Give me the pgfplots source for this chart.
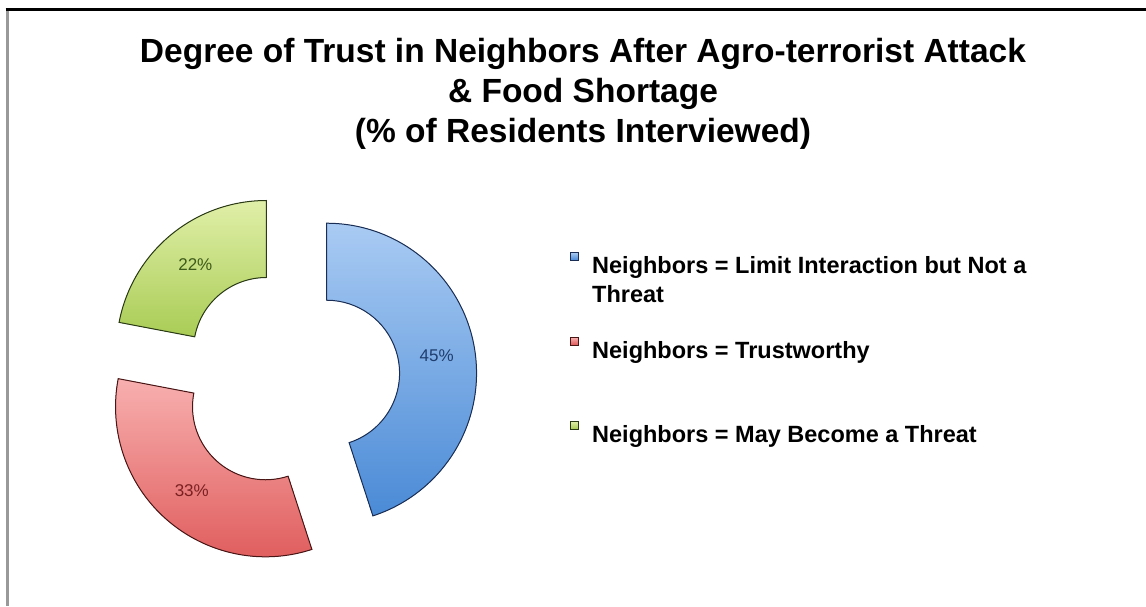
\documentclass[border=0pt]{standalone}
\usepackage{pgfplots}
\pgfplotsset{compat=1.18}
\usepackage{pgfplotstable}
\usepackage{fontspec}
\setmainfont{Liberation Sans}
\usetikzlibrary{calc}

\definecolor{blueTop}{HTML}{A9CBF3}
\definecolor{blueBot}{HTML}{4A8AD6}
\definecolor{redTop}{HTML}{F8AFAF}
\definecolor{redBot}{HTML}{DE5656}
\definecolor{greenTop}{HTML}{E0EFA8}
\definecolor{greenBot}{HTML}{A9CC55}
\definecolor{blueEdge}{HTML}{1A2E55}
\definecolor{redEdge}{HTML}{4A1515}
\definecolor{greenEdge}{HTML}{2A3A15}
\definecolor{blueLab}{HTML}{1F3D6E}
\definecolor{redLab}{HTML}{7A2020}
\definecolor{greenLab}{HTML}{3D5A1A}

\pgfplotstableread{
label value
Limit 45
Trust 33
Threat 22
}\data

\pgfplotstablegetelem{0}{value}\of\data \let\vA\pgfplotsretval
\pgfplotstablegetelem{1}{value}\of\data \let\vB\pgfplotsretval
\pgfplotstablegetelem{2}{value}\of\data \let\vC\pgfplotsretval

\pgfmathsetmacro\aA{90}
\pgfmathsetmacro\aB{\aA-3.6*\vA}
\pgfmathsetmacro\aC{\aB-3.6*\vB}
\pgfmathsetmacro\aD{\aC-3.6*\vC}
\pgfmathsetmacro\mA{(\aA+\aB)/2}
\pgfmathsetmacro\mB{(\aB+\aC)/2}
\pgfmathsetmacro\mC{(\aC+\aD)/2}

\def\Rout{150pt}
\def\Rin{73pt}
\def\Rmid{111.5pt}
\def\expl{37pt}

% segment: start angle, end angle, mid angle, top colour, bottom colour, edge colour
\newcommand\segment[6]{%
  \filldraw[top color=#4, bottom color=#5, draw=#6, line width=1pt]
    ($(axis cs:290,379)+(#3:\expl)+(#1:\Rout)$)
    arc[start angle=#1, end angle=#2, radius=\Rout]
    -- ($(axis cs:290,379)+(#3:\expl)+(#2:\Rin)$)
    arc[start angle=#2, end angle=#1, radius=\Rin]
    -- cycle;
}

\begin{document}
\begin{tikzpicture}
\begin{axis}[
  width=1146pt, height=606pt, scale only axis,
  xmin=0, xmax=1146, ymin=0, ymax=606, y dir=reverse,
  hide axis, clip=false,
]
\coordinate (bbA) at (axis cs:0,0);
\coordinate (bbB) at (axis cs:1146,606);
% frame
\draw[color=black!40, line width=3.5pt] (axis cs:7.3,9) -- (axis cs:7.3,606);
\draw[color=black, line width=2.5pt] (axis cs:5.5,9.3) -- (axis cs:1146,9.3);

% title
\node[anchor=base, font=\fontsize{33.5}{40}\selectfont\bfseries] at (axis cs:583,62) {Degree of Trust in Neighbors After Agro-terrorist Attack};
\node[anchor=base, font=\fontsize{33.5}{40}\selectfont\bfseries] at (axis cs:583,102) {\& Food Shortage};
\node[anchor=base, font=\fontsize{33.5}{40}\selectfont\bfseries] at (axis cs:583,142) {(\% of Residents Interviewed)};

% donut segments
\segment{\aA}{\aB}{\mA}{blueTop}{blueBot}{blueEdge}
\segment{\aB}{\aC}{\mB}{redTop}{redBot}{redEdge}
\segment{\aC}{\aD}{\mC}{greenTop}{greenBot}{greenEdge}

% value labels
\node[font=\fontsize{17}{20}\selectfont, text=blueLab] at ($(axis cs:290,379)+(\mA:\expl)+(\mA:\Rmid)$) {\vA\%};
\node[font=\fontsize{17}{20}\selectfont, text=redLab] at ($(axis cs:290,379)+(\mB:\expl)+(\mB:\Rmid)$) {\vB\%};
\node[font=\fontsize{17}{20}\selectfont, text=greenLab] at ($(axis cs:290,379)+(\mC:\expl)+(\mC:\Rmid)$) {\vC\%};

% legend
\filldraw[top color=blueTop, bottom color=blueBot, draw=blueEdge, line width=0.8pt] (axis cs:570.5,252.5) rectangle (axis cs:578,260);
\filldraw[top color=redTop, bottom color=redBot, draw=redEdge, line width=0.8pt] (axis cs:570.5,337.5) rectangle (axis cs:578,345);
\filldraw[top color=greenTop, bottom color=greenBot, draw=greenEdge, line width=0.8pt] (axis cs:570.5,421.5) rectangle (axis cs:578,429);
\node[anchor=base west, inner sep=0pt, font=\fontsize{23.5}{29}\selectfont\bfseries] at (axis cs:592,273) {Neighbors = Limit Interaction but Not a};
\node[anchor=base west, inner sep=0pt, font=\fontsize{23.5}{29}\selectfont\bfseries] at (axis cs:592,302) {Threat};
\node[anchor=base west, inner sep=0pt, font=\fontsize{23.5}{29}\selectfont\bfseries] at (axis cs:592,358) {Neighbors = Trustworthy};
\node[anchor=base west, inner sep=0pt, font=\fontsize{23.5}{29}\selectfont\bfseries] at (axis cs:592,442) {Neighbors = May Become a Threat};
\end{axis}
\pgfresetboundingbox
\path[use as bounding box] (bbA) rectangle (bbB);
\end{tikzpicture}
\end{document}
